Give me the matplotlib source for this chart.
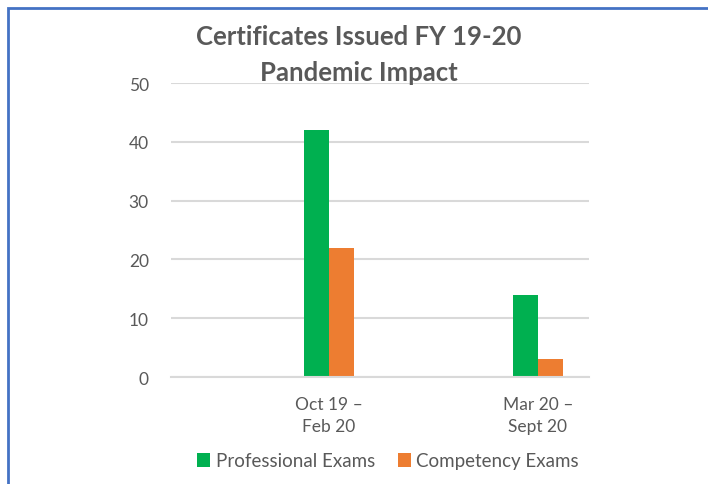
import matplotlib.pyplot as plt
import matplotlib.patches as patches
import numpy as np

plt.rcParams['font.family'] = ['Lato', 'DejaVu Sans']

# --- DATA ---
periods = ["Oct 19 \u2013\nFeb 20", "Mar 20 \u2013\nSept 20"]
professional = [42, 14]
competency = [22, 3]

grey = '#595959'
grid_col = '#D9D9D9'

fig = plt.figure(figsize=(7.08, 4.85), dpi=100)
ax = fig.add_axes([0.2415, 0.2206, 0.5904, 0.6062])

x_pos = np.arange(len(periods))
bar_width = 0.12
b1 = ax.bar(x_pos - bar_width / 2, professional, width=bar_width, color='#00B050',
            label="Professional Exams", zorder=2)
b2 = ax.bar(x_pos + bar_width / 2, competency, width=bar_width, color='#ED7D31',
            label="Competency Exams", zorder=2)

ax.set_xlim(-0.756, 1.244)
ax.set_ylim(0, 50)
ax.set_yticks([0, 10, 20, 30, 40, 50])
ax.grid(True, axis='y', color=grid_col, linewidth=1.5, zorder=0)
for s in ['top', 'right', 'left']:
    ax.spines[s].set_visible(False)
ax.spines['bottom'].set_color(grid_col)
ax.spines['bottom'].set_linewidth(1.5)
ax.tick_params(length=0, labelsize=12.5, labelcolor=grey)
ax.tick_params(axis='y', pad=16)
ax.tick_params(axis='x', pad=14)
ax.set_xticks(x_pos)
ax.set_xticklabels(periods, linespacing=1.4)

# title
fig.text(0.507, 1 - 55 / 485, "Certificates Issued FY 19-20\nPandemic Impact",
         ha='center', va='center', fontsize=18.5, fontweight='bold', color=grey,
         linespacing=1.6)

# legend
fig.legend(handles=[b1, b2], loc='center', bbox_to_anchor=(388 / 708, 1 - 462 / 485),
           ncol=2, frameon=False, fontsize=13.5, labelcolor=grey, handlelength=0.7,
           handleheight=0.7, handletextpad=0.3, columnspacing=1.2)

# blue border (box cropped on the right and bottom)
fig.patches.append(patches.Rectangle((8 / 708, -0.1), 1.2, 1 - 9 / 485 + 0.1,
                                     transform=fig.transFigure, fill=False,
                                     edgecolor='#4472C4', linewidth=2))

plt.savefig("out.png", dpi=100)
